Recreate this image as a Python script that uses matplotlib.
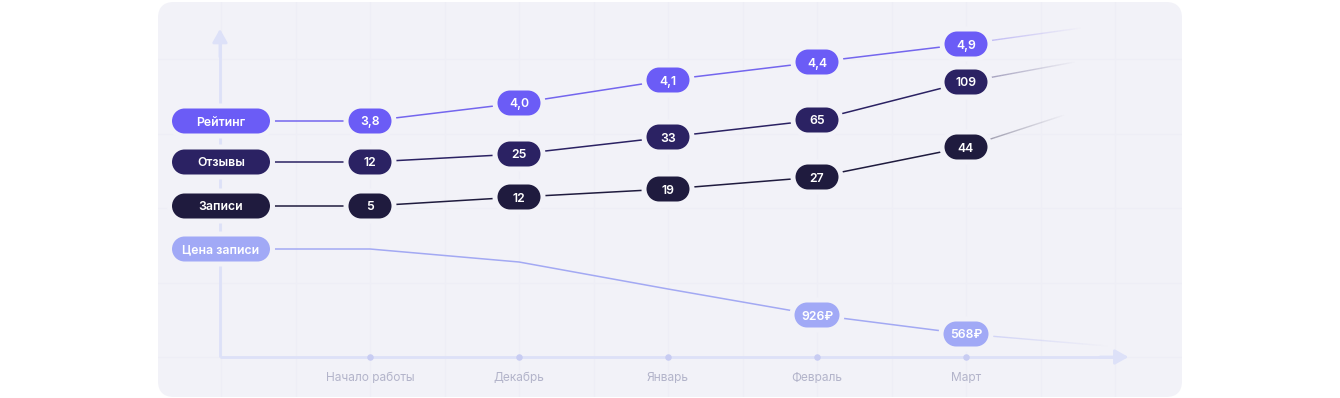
import numpy as np
import matplotlib
matplotlib.use('Agg')
import matplotlib.pyplot as plt
from matplotlib.patches import FancyBboxPatch, PathPatch
from matplotlib.path import Path
from matplotlib.collections import LineCollection
import matplotlib.transforms as mtransforms
from matplotlib.colors import to_rgba

plt.rcParams['font.family'] = ['Inter', 'DejaVu Sans']

# ---------------- data ----------------
months = ["Начало работы", "Декабрь", "Январь", "Февраль", "Март"]
series_names = ["Рейтинг", "Отзывы", "Записи", "Цена записи"]

rating_labels = ["3,8", "4,0", "4,1", "4,4", "4,9"]
reviews_labels = ["12", "25", "33", "65", "109"]
bookings_labels = ["5", "12", "19", "27", "44"]
price_labels = ["", "", "", "926₽", "568₽"]

# vertical level of each point on the (unitless) chart
rating_level = [236, 254, 277, 295, 313]
reviews_level = [195, 203, 220, 237, 275]
bookings_level = [151, 160, 168, 180, 210]
price_level = [108, 95, 68, 42, 23]

# faded trend continuation after the last month: (x index, level)
rating_trend = [4.77, 329]
reviews_trend = [4.73, 295]
bookings_trend = [4.66, 242]
price_trend = [4.95, 11]

# ---------------- style ----------------
CARD = '#f2f2f8'
GRID = '#eeeef6'
AXIS = '#dde1f8'
TICK = '#b3b4ca'
DOT = '#c8ccf2'
C_RATING = '#6b5cf6'
C_REVIEWS = '#2b2263'
C_BOOK = '#1f1b3e'
C_PRICE = '#a1a9f6'
L_RATING = '#7466ee'
L_PRICE = '#a3a9f3'

W, H, DPI = 1340, 398, 100
fig = plt.figure(figsize=(W / DPI, H / DPI), dpi=DPI)
fig.patch.set_facecolor('white')
ax = fig.add_axes([0, 0, 1, 1])
ax.set_facecolor('none')
ax.axis('off')
X0, DX, Y0 = 370, 149, 357
ax.set_xlim((0 - X0) / DX, (W - X0) / DX)
ax.set_ylim(Y0 - H, Y0)

# card background (display pixels)
card = FancyBboxPatch((158, 1), 1024, 395, boxstyle="round,pad=0,rounding_size=16",
                      fc=CARD, ec='none', transform=mtransforms.IdentityTransform(), zorder=0)
ax.add_patch(card)

# faint grid
xs_grid = np.arange(-1.0, 5.01, 0.5)
for gx in xs_grid:
    ln, = ax.plot([gx, gx], [Y0 - H, Y0], color=GRID, lw=0.8, zorder=0.5)
    ln.set_clip_path(card)
for gy in np.arange(0, 360, 74.5):
    ln, = ax.plot([-2.5, 6.5], [gy, gy], color=GRID, lw=0.8, zorder=0.5)
    ln.set_clip_path(card)

# axes with arrows
YAX = -1.007
ax.plot([YAX, 5.0], [0, 0], color=AXIS, lw=2, zorder=1, solid_capstyle='butt')
ax.plot([YAX, YAX], [0, 318], color=AXIS, lw=2, zorder=1, solid_capstyle='butt')
ax.annotate('', xy=(5.09, 0), xytext=(4.9, 0),
            arrowprops=dict(arrowstyle='-|>,head_length=0.8,head_width=0.45', color=AXIS, lw=2,
                            shrinkA=0, shrinkB=0), zorder=1)
ax.annotate('', xy=(YAX, 328), xytext=(YAX, 300),
            arrowprops=dict(arrowstyle='-|>,head_length=0.8,head_width=0.45', color=AXIS, lw=2,
                            shrinkA=0, shrinkB=0), zorder=1)

idx = np.arange(len(months))
ax.scatter(idx, np.zeros(len(idx)), s=22, color=DOT, zorder=1.5, linewidths=0)
for i, m in enumerate(months):
    ax.text(i, -21, m, ha='center', va='center', color=TICK, fontsize=8.6)

GAP = 5


def stadium_path(w, h):
    r = h / 2
    a1 = Path.arc(90, 270)
    a2 = Path.arc(-90, 90)
    v1 = a1.vertices * r + np.array([-w / 2 + r, 0])
    v2 = a2.vertices * r + np.array([w / 2 - r, 0])
    verts = np.vstack([v1, v2, v1[:1]])
    codes = np.concatenate([a1.codes, [Path.LINETO], a2.codes[1:], [Path.CLOSEPOLY]])
    codes[0] = Path.MOVETO
    return Path(verts, codes)


def pill(x, y, w, h, color, text, fs=8.8):
    tr = mtransforms.Affine2D() + mtransforms.ScaledTranslation(x, y, ax.transData)
    p = PathPatch(stadium_path(w + GAP, h + GAP), fc=color, ec=CARD,
                  lw=GAP * 72 / DPI, transform=tr, zorder=3)
    ax.add_patch(p)
    if text:
        ax.text(x, y, text, ha='center', va='center_baseline', color='white',
                fontsize=fs, fontweight='semibold', zorder=4)


def fade(x0, y0, x1, y1, color, a0=0.5, n=40):
    t = np.linspace(0, 1, n + 1)
    xs = x0 + (x1 - x0) * t
    ys = y0 + (y1 - y0) * t
    segs = [[(xs[k], ys[k]), (xs[k + 1], ys[k + 1])] for k in range(n)]
    rgba = to_rgba(color)
    cols = [(rgba[0], rgba[1], rgba[2], a0 * (1 - k / n)) for k in range(n)]
    ax.add_collection(LineCollection(segs, colors=cols, linewidths=1.0, zorder=2))


series = [
    (series_names[0], rating_level, rating_labels, rating_trend, C_RATING, L_RATING, 43),
    (series_names[1], reviews_level, reviews_labels, reviews_trend, C_REVIEWS, C_REVIEWS, 43),
    (series_names[2], bookings_level, bookings_labels, bookings_trend, C_BOOK, C_BOOK, 43),
    (series_names[3], price_level, price_labels, price_trend, C_PRICE, L_PRICE, 45),
]

LABEL_X = -1.0
for name, lev, labs, trend, pc, lc, pw in series:
    xs = [LABEL_X] + list(idx)
    ys = [lev[0]] + list(lev)
    ax.plot(xs, ys, color=lc, lw=1.1, zorder=2, solid_capstyle='butt')
    fade(idx[-1], lev[-1], trend[0], trend[1], lc)
    pill(LABEL_X, lev[0], 98, 25, pc, name)
    for i, (v, t) in enumerate(zip(lev, labs)):
        if t:
            pill(i, v, pw, 25, pc, t)

fig.savefig('out.png', dpi=DPI, facecolor='white')
